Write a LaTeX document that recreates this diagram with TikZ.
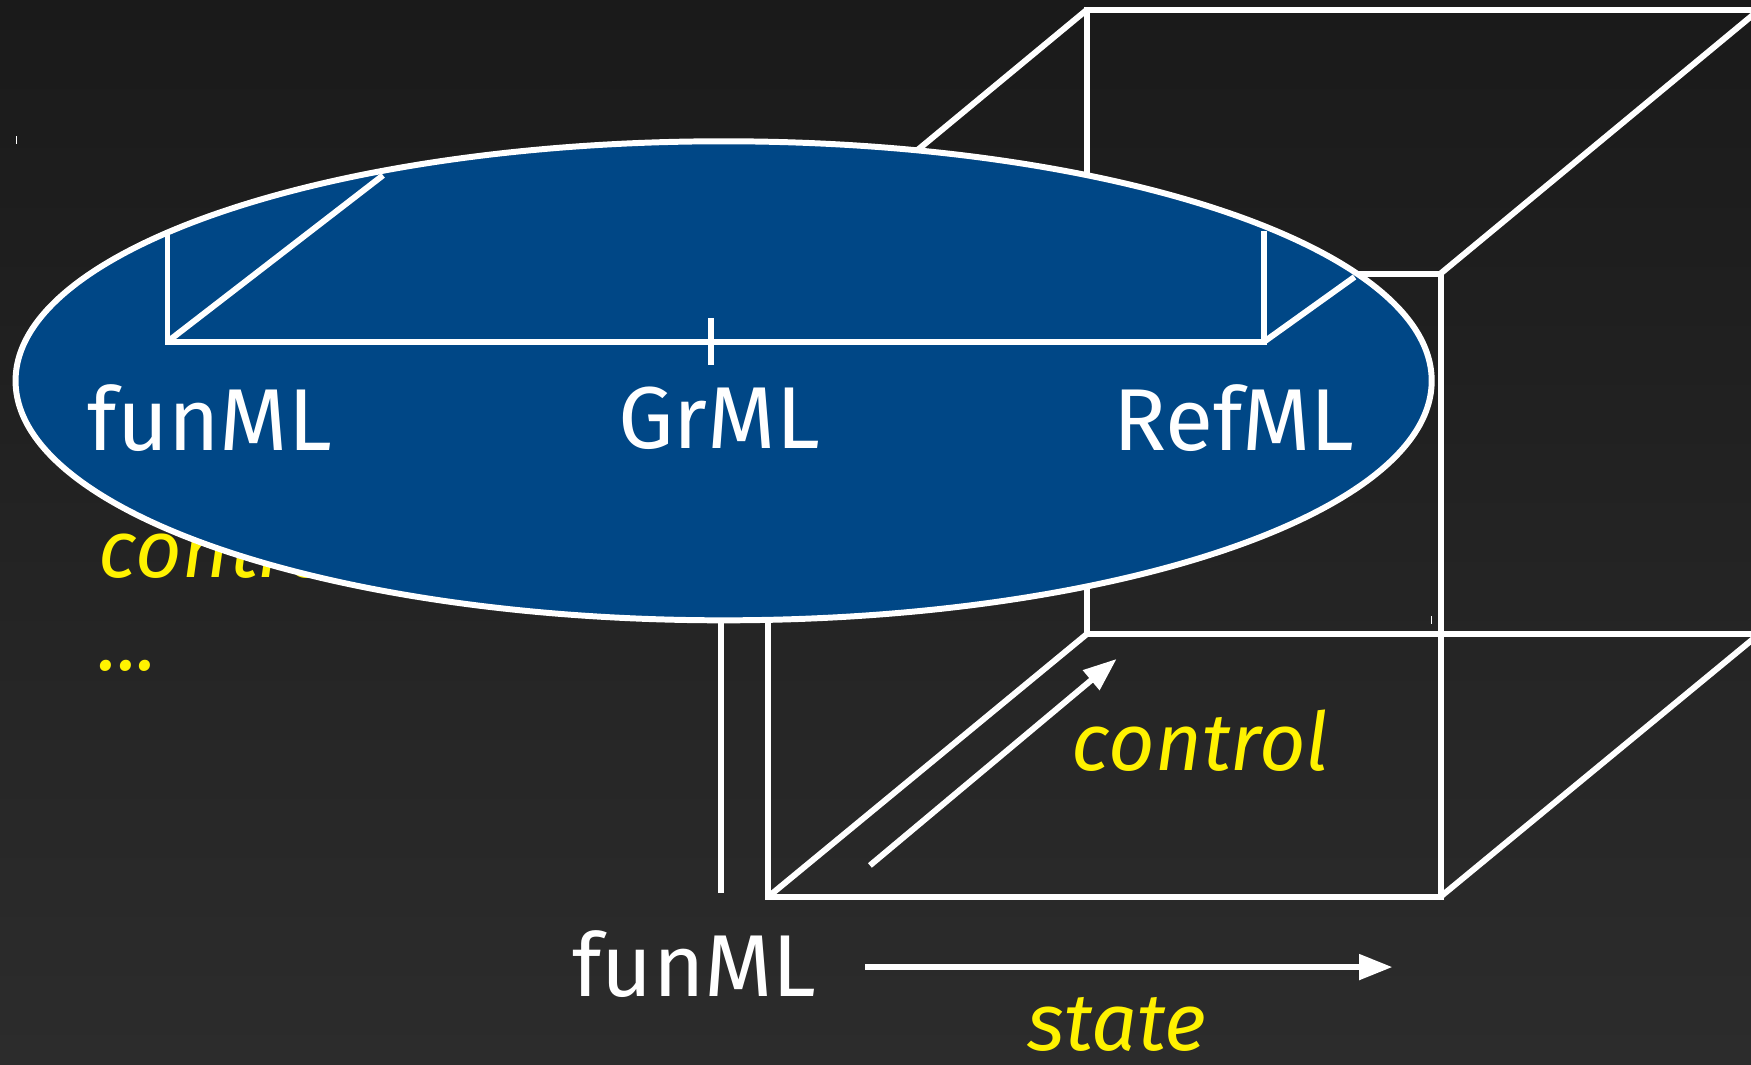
\documentclass[tikz,border=0pt]{standalone}
\usepackage{fontspec}
\setmainfont{Fira Sans}
\usetikzlibrary{shapes.geometric, arrows.meta, positioning}
\definecolor{slatetop}{HTML}{1A1A1A}
\definecolor{slatebot}{HTML}{2C2C2C}
\definecolor{mlblue}{HTML}{004786}
\tikzstyle{edge} = [white, line width=1.7pt]
\tikzstyle{hairline} = [white, line width=0.4pt]
\tikzstyle{blob} = [ellipse, draw=white, line width=1.7pt, fill=mlblue, minimum width=141.6mm, minimum height=47.9mm, inner sep=0pt]
\tikzstyle{lang} = [white, font=\fontsize{25}{30}\selectfont, anchor=base, inner sep=0pt]
\tikzstyle{effect} = [yellow, font=\fontsize{23}{28}\selectfont\itshape, anchor=base, inner sep=0pt]
\tikzstyle{arrow} = [white, line width=1.7pt, -{Triangle[length=9.5pt, width=7pt]}]

\begin{document}
\begin{tikzpicture}[x=0.11167mm, y=-0.11167mm]
    \shade[top color=slatetop, bottom color=slatebot] (0,0) rectangle (1568,953);
    \useasboundingbox (0,0) rectangle (1568,953);

    \coordinate (f1) at (688,245);
    \coordinate (f2) at (1290,245);
    \coordinate (f3) at (1290,803);
    \coordinate (f4) at (688,803);
    \coordinate (b1) at (973,9);
    \coordinate (b2) at (1575,9);
    \coordinate (b3) at (1575,568);
    \coordinate (b4) at (973,568);
    \draw [edge] (b1) -- (b2) -- (b3) -- (b4) -- cycle;
    \draw [edge] (f1) -- (f2) -- (f3) -- (f4) -- cycle;
    \foreach \c in {1,...,4}
        \draw [edge] (f\c) -- (b\c);

    \coordinate (rail_top) at (646,520);
    \coordinate (rail_bot) at (646,800);
    \draw [edge] (rail_top) -- (rail_bot);

    \node (ctrl_hidden) [effect, anchor=base west] at (88,517) {control};
    \node (dots) [effect, anchor=base west] at (88,600) {...};

    \node (langs) [blob] at (648,341) {};

    \coordinate (l_top) at (150,207);
    \coordinate (l_corner) at (150,306);
    \coordinate (l_diag) at (343,157);
    \coordinate (r_corner) at (1132,306);
    \coordinate (r_top) at (1132,207);
    \coordinate (r_diag) at (1213,248);
    \coordinate (mid_top) at (637,285);
    \coordinate (mid_bot) at (637,327);
    \draw [edge] (l_top) -- (l_corner) -- (r_corner) -- (r_top);
    \draw [edge] (l_corner) -- (l_diag);
    \draw [edge] (r_corner) -- (r_diag);
    \draw [edge] (mid_top) -- (mid_bot);

    \node (fun) [lang] at (188,403) {funML};
    \node (gr) [lang] at (644,402) {GrML};
    \node (ref) [lang] at (1105,403) {RefML};

    \node (fun_base) [lang] at (622,892) {funML};
    \coordinate (state_from) at (775,866);
    \coordinate (state_to) at (1247,866);
    \draw [arrow] (state_from) -- (state_to);
    \node (state_label) [effect] at (1000,941) {state};

    \coordinate (ctrl_from) at (779,775);
    \coordinate (ctrl_to) at (1000,590);
    \draw [arrow] (ctrl_from) -- (ctrl_to);
    \node (ctrl_label) [effect] at (1075,690) {control};

    \draw [hairline] (15,122) -- (15,129);
    \draw [hairline] (1282,552) -- (1282,559);
\end{tikzpicture}
\end{document}
